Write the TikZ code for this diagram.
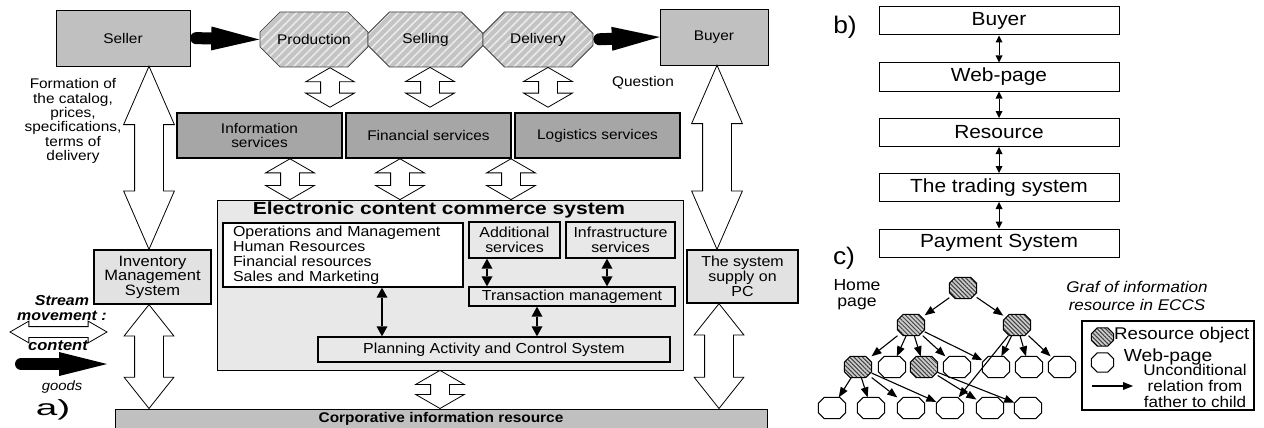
\documentclass[tikz,border=0pt]{standalone}
\usepackage{fontspec}
\setmainfont{Liberation Sans}[FakeStretch=1.1]
\newfontfamily\widefont{Liberation Sans}[FakeStretch=1.2]
\usetikzlibrary{positioning,calc,arrows.meta,shapes.misc,shapes.arrows,patterns.meta}

\definecolor{boxgray}{HTML}{C0C0C0}
\definecolor{servgray}{HTML}{A6A6A6}
\definecolor{palegray}{HTML}{E2E2E2}
\definecolor{sysgray}{HTML}{E8E8E8}

\newcommand\fsz[2][]{\fontsize{#2}{#2}\selectfont}
% hollow double arrow between two points
\newcommand\hollow[3]{\path let \p1=($(#2)-(#1)$) in (#1) -- (#2)
  node[midway,sloped,#3,minimum height={veclen(\x1,\y1)}] {};}
% small octagon of the graph: style, name, position, size
\newcommand\octnode[4]{\node[inner sep=0pt, #4] (#2) at (#3) {};
  \draw[#1] ([xshift=6pt]#2.north west) -- ([xshift=-6pt]#2.north east) -- ([yshift=-6pt]#2.north east)
    -- ([yshift=6pt]#2.south east) -- ([xshift=-6pt]#2.south east) -- ([xshift=6pt]#2.south west)
    -- ([yshift=6pt]#2.south west) -- ([yshift=-6pt]#2.north west) -- cycle;}

\tikzset{
  box/.style={draw, fill=boxgray, inner sep=0pt, align=center, font=\fsz{14}},
  serv/.style={box, fill=servgray, line width=1.6pt, minimum width=165pt, minimum height=45pt},
  unit/.style={box, fill=sysgray, line width=1.3pt, font=\fontsize{14.5}{15}\selectfont},
  octo/.style={chamfered rectangle, chamfered rectangle xsep=20pt, chamfered rectangle ysep=15pt,
    draw=black!75, line width=0.8pt, preaction={fill=black!23},
    pattern={Lines[angle=45,distance=6pt,line width=1.5pt]}, pattern color=black!8,
    minimum height=55pt, inner sep=0pt, font=\fsz{14}},
  goods/.style={line width=12pt, line cap=round, -{Triangle[length=48pt,width=24pt,line width=0pt]}},
  bigarrow/.style={double arrow, draw, fill=white, line width=0.8pt, inner xsep=0pt, inner ysep=14pt,
    double arrow head extend=11pt, double arrow tip angle=47},
  midarrow/.style={bigarrow, double arrow head extend=10.5pt, double arrow tip angle=77},
  smallarrow/.style={bigarrow, inner ysep=9pt, double arrow head extend=15pt, double arrow tip angle=120},
  dbl/.style={line width=1.6pt, {Triangle[length=10pt,width=11pt,line width=0pt]}-{Triangle[length=10pt,width=11pt,line width=0pt]}},
  pagebox/.style={draw, line width=1pt, minimum width=240pt, minimum height=28pt, inner sep=0pt, font=\fsz{19}},
  pair/.style={line width=0.9pt, {Triangle[length=7pt,width=7pt,line width=0pt]}-{Triangle[length=7pt,width=7pt,line width=0pt]}},
  tree/.style={minimum width=27pt, minimum height=21pt},
  web/.style={draw, fill=white, line width=1pt},
  res/.style={draw, line width=1pt, preaction={fill=black!20}, pattern={Lines[angle=-45,distance=3pt,line width=1pt]}, pattern color=black!75},
  link/.style={line width=1.1pt, -{Triangle[length=10pt,width=8pt,line width=0pt]}}
}

\begin{document}
\begin{tikzpicture}[x=1pt,y=-1pt]% ------ ECCS scheme -----------------
\useasboundingbox (0,0) rectangle (1264,428);
% a) chain
\node[box, minimum width=134pt, minimum height=56pt] (seller) at (123,38) {Seller};
\node[octo, minimum width=108pt] (prod) at (314,39.5) {Production};
\node[octo, minimum width=115pt] (sell) at (425.5,39.5) {Selling};
\node[octo, minimum width=110pt] (deliv) at (538,39.5) {Delivery};
\node[box, minimum width=108pt, minimum height=56pt] (buyer) at (714,37) {Buyer};
\draw[goods, shorten <=6pt] (seller.east) -- (prod.west);
\draw[goods, shorten <=6pt] (deliv.east) -- (buyer.west);
\node[align=center, font=\fontsize{14}{14.4}\selectfont] (form) at (73,121)
  {Formation of\\the catalog,\\prices,\\specifications,\\terms of\\delivery};
\node[font=\fsz{14}] (quest) at (643,83) {Question};
% services
\node[serv] (info) at (259.5,135.5) {Information\\services};
\node[serv] (fin) at (428.5,135.5) {Financial services};
\node[serv] (logi) at (597.5,135.5) {Logistics services};
\hollow{[xshift=16pt]prod.south}{[xshift=16pt,yshift=5pt]prod.south |- info.north}{smallarrow}
\hollow{[xshift=4.5pt]sell.south}{[xshift=4.5pt,yshift=5pt]sell.south |- fin.north}{smallarrow}
\hollow{[xshift=10pt]deliv.south}{[xshift=10pt,yshift=5pt]deliv.south |- logi.north}{smallarrow}
% ECCS
\node[draw, fill=sysgray, line width=0.8pt, minimum width=466pt, minimum height=170pt, inner sep=0pt] (eccs) at (450,285) {};
\node[font=\widefont\bfseries\fsz{17.5}] (title) at (439,210) {Electronic content commerce system};
\node[draw, fill=white, line width=1.3pt, minimum width=240pt, minimum height=64pt, inner sep=0pt,
  text width=220pt, align=left, font=\fontsize{14.5}{15}\selectfont] (ops) at (343,255)
  {Operations and Management\\Human Resources\\Financial resources\\Sales and Marketing};
\node[unit, minimum width=91pt, minimum height=36pt] (add) at (514.5,240) {Additional\\services};
\node[unit, minimum width=109pt, minimum height=36pt] (infra) at (620.5,240) {Infrastructure\\services};
\node[unit, minimum width=206pt, minimum height=19pt] (trans) at (572,296.5) {Transaction management};
\node[unit, minimum width=352pt, minimum height=25pt] (plan) at (494,349.5) {Planning Activity and Control System};
\draw[dbl] ([xshift=39pt]ops.south) -- ([xshift=39pt]ops.south |- plan.north);
\draw[dbl] ([xshift=-27.5pt]add.south) -- ([xshift=-27.5pt]add.south |- trans.north);
\draw[dbl] ([xshift=-13.5pt]infra.south) -- ([xshift=-13.5pt]infra.south |- trans.north);
\draw[dbl] ([xshift=-35pt]trans.south) -- ([xshift=-35pt]trans.south |- plan.north);
\hollow{[xshift=-160pt]eccs.north |- info.south}{[xshift=-160pt]eccs.north}{smallarrow}
\hollow{[xshift=-50pt]eccs.north |- fin.south}{[xshift=-50pt]eccs.north}{smallarrow}
\hollow{[xshift=61pt]eccs.north |- logi.south}{[xshift=61pt]eccs.north}{smallarrow}
% side systems
\node[unit, fill=palegray, minimum width=117pt, minimum height=54pt, font=\fontsize{15}{14.5}\selectfont] (inv) at (152.5,277) {Inventory\\Management\\System};
\node[unit, fill=palegray, minimum width=111pt, minimum height=53pt] (supply) at (742.5,276.5) {The system\\supply on\\PC};
\node[box, line width=1pt, minimum width=652pt, minimum height=19pt, font=\bfseries\fsz{14}] (corp) at (441,418.5) {Corporative information resource};
\hollow{[xshift=26pt]seller.south}{[xshift=26pt]seller.south |- inv.north}{bigarrow}
\hollow{[xshift=-3.5pt]inv.south}{[xshift=-3.5pt]inv.south |- corp.north}{midarrow}
\hollow{[xshift=-10pt]eccs.south}{[xshift=-10pt]eccs.south |- corp.north}{smallarrow}
\hollow{[xshift=3pt]buyer.south}{[xshift=3pt]buyer.south |- supply.north}{bigarrow}
\hollow{[xshift=-23.5pt]supply.south}{[xshift=-23.5pt]supply.south |- corp.north}{midarrow}
% legend a)
\node[align=center, font=\bfseries\itshape\fontsize{14.5}{15}\selectfont] (stream) at (62,308) {Stream\\movement :};
\node[double arrow, draw, fill=white, line width=0.8pt, inner xsep=0pt, inner ysep=5pt,
  double arrow head extend=5.5pt, double arrow tip angle=60, minimum height=97pt] (flow) at (58.5,332) {};
\node[font=\bfseries\itshape\fsz{15}] (content) at (58,346) {content};
\coordinate (gs) at (21,364);
\coordinate (ge) at (107,364);
\draw[goods] (gs) -- (ge);
\node[font=\itshape\fsz{13.5}] (goods) at (62,387) {goods};
\node[font=\fsz{22}] (la) at (53,410) {\scalebox{1.6}[1]{a)}};
% b) ------------------
\node[font=\fsz{24}] (lb) at (845,27) {b)};
\node[pagebox] (bbuy) at (999,21) {Buyer};
\node[pagebox] (bweb) at (999,77) {Web-page};
\node[pagebox] (bres) at (999,132.5) {Resource};
\node[pagebox] (btrade) at (999,187.5) {The trading system};
\node[pagebox] (bpay) at (999,243) {Payment System};
\foreach \a/\b in {bbuy/bweb, bweb/bres, bres/btrade, btrade/bpay}
  \draw[pair] (\a) -- (\b);
% c) ------------------
\node[font=\fsz{24}] (lc) at (844,258) {c)};
\node[align=center, font=\fontsize{16}{16}\selectfont] (home) at (857,295) {Home\\page};
\node[align=center, font=\itshape\fontsize{15.5}{18}\selectfont] (graf) at (1137,296) {Graf of information\\resource in ECCS};
\octnode{res}{root}{963,288}{tree}
\octnode{res}{ua}{911,325}{tree}
\octnode{res}{ub}{1017,325}{tree}
\octnode{res}{va}{858,367}{tree}
\octnode{web}{vb}{892,367}{tree}
\octnode{res}{vc}{924,367}{tree}
\foreach \n/\x in {vd/957, ve/996, vf/1029, vg/1062}
  {\octnode{web}{\n}{\x,367}{tree}}
\foreach \n/\x in {wa/832, wb/871, wc/911, wd/950, we/990, wf/1028}
  {\octnode{web}{\n}{\x,408}{tree}}
\foreach \a/\b in {root/ua, root/ub, ua/va, ua/vb, ua/vc, ua/vd, ua/ve, ub/ve, ub/vf, ub/vg, ub/wd,
  va/wa, va/wb, va/wc, va/wd, vc/we, vc/wf}
  \draw[link] (\a) -- (\b);
% legend c)
\node[draw, line width=1.3pt, minimum width=172pt, minimum height=89pt, inner sep=0pt] (legend) at (1168,365.5) {};
\octnode{res}{kres}{1102.5,337}{minimum width=22pt, minimum height=18pt}
\octnode{web}{kweb}{1102.5,362.5}{minimum width=22pt, minimum height=19pt}
\node[font=\fsz{17}, anchor=west, inner sep=0pt] (tres) at (1114,335) {Resource object};
\node[font=\fsz{17.5}] (tweb) at (1168,357) {Web-page};
\node[align=center, font=\fontsize{15.5}{16}\selectfont] (trel) at (1195,386) {Unconditional\\relation from\\father to child};
\coordinate (ka) at (1092,386);
\coordinate (kb) at (1133,386);
\draw[link] (ka) -- (kb);
\end{tikzpicture}
\end{document}
